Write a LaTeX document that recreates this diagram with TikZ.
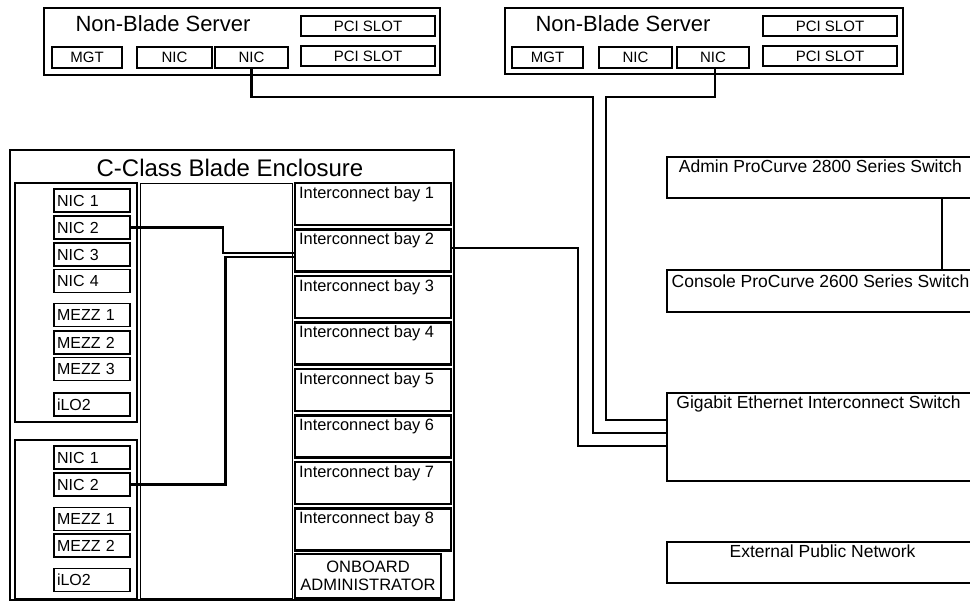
\documentclass[tikz,border=0pt]{standalone}
\usepackage{fontspec}
\setmainfont{Liberation Sans}
\newcommand\fsz[1]{\fontsize{#1}{#1}\selectfont}
\begin{document}
\begin{tikzpicture}[x=1pt,y=-1pt,
  thickbox/.style={draw, line width=2.2pt, inner sep=0pt, rectangle},
  thinbox/.style={draw, line width=1.1pt, inner sep=0pt, rectangle, text depth=0pt},
  itembox/.style={draw, line width=1.1pt, inner xsep=3pt, inner ysep=0pt, minimum height=23pt, text width=70pt, align=left, font=\fsz{16}},
  lbl/.style={inner sep=0pt, text depth=0pt},
  conn/.style={line width=2.2pt},
]
\useasboundingbox (0,0) rectangle (970,601);
\clip (0,0) rectangle (970,601);

% ---------- Non-blade servers ----------
\node[thickbox, minimum width=396pt, minimum height=67pt] (ls) at (242,41.5) {};
\node[lbl, font=\fsz{22}] (lst) at (163,23.3) {Non-Blade Server};
\node[thinbox, minimum width=134pt, minimum height=20pt, font=\fsz{15}] (lpci1) at (368,26) {PCI SLOT};
\node[thinbox, minimum width=134pt, minimum height=20pt, font=\fsz{15}] (lpci2) at (368,56) {PCI SLOT};
\node[thinbox, minimum width=70pt, minimum height=21pt, font=\fsz{15}] (lmgt) at (87,57.5) {MGT};
\node[thinbox, minimum width=75pt, minimum height=21pt, font=\fsz{15}] (lnic1) at (174.5,57.5) {NIC};
\node[thinbox, minimum width=73pt, minimum height=21pt, font=\fsz{15}] (lnic2) at (251.5,57.5) {NIC};

\node[thickbox, minimum width=398pt, minimum height=66pt] (rs) at (704,41) {};
\node[lbl, font=\fsz{22}] (rst) at (623,23.3) {Non-Blade Server};
\node[thinbox, minimum width=134pt, minimum height=20pt, font=\fsz{15}] (rpci1) at (830,26) {PCI SLOT};
\node[thinbox, minimum width=134pt, minimum height=20pt, font=\fsz{15}] (rpci2) at (830,56) {PCI SLOT};
\node[thinbox, minimum width=71pt, minimum height=21pt, font=\fsz{15}] (rmgt) at (547.5,57.5) {MGT};
\node[thinbox, minimum width=73pt, minimum height=21pt, font=\fsz{15}] (rnic1) at (635.5,57.5) {NIC};
\node[thinbox, minimum width=72pt, minimum height=21pt, font=\fsz{15}] (rnic2) at (713,57.5) {NIC};

% ---------- Enclosure ----------
\node[draw, line width=2.5pt, inner sep=0pt, minimum width=444pt, minimum height=450pt] (enc) at (232,375) {};
\node[lbl, font=\fsz{24}] (enct) at (230,168) {C-Class Blade Enclosure};
\node[thickbox, minimum width=122pt, minimum height=239pt] (blade1) at (76,302.5) {};
\node[thickbox, minimum width=122pt, minimum height=159pt] (blade2) at (76,519.5) {};
\node[draw, line width=0.9pt, inner sep=0pt, minimum width=152pt, minimum height=415pt] (mid) at (216,390.5) {};

\node[itembox] (b1nic1) at (92,200.5) {NIC 1};
\node[itembox] (b1nic2) at (92,227.5) {NIC 2};
\node[itembox] (b1nic3) at (92,254.5) {NIC 3};
\node[itembox] (b1nic4) at (92,281) {NIC 4};
\node[itembox] (b1mezz1) at (92,315) {MEZZ 1};
\node[itembox] (b1mezz2) at (92,342.5) {MEZZ 2};
\node[itembox] (b1mezz3) at (92,369) {MEZZ 3};
\node[itembox] (b1ilo) at (92,404.5) {iLO2};

\node[itembox] (b2nic1) at (92,457.5) {NIC 1};
\node[itembox] (b2nic2) at (92,484.5) {NIC 2};
\node[itembox] (b2mezz1) at (92,519) {MEZZ 1};
\node[itembox] (b2mezz2) at (92,545.5) {MEZZ 2};
\node[itembox] (b2ilo) at (92,580) {iLO2};

\foreach \i in {1,...,8} {
  \node[thickbox, minimum width=156pt, minimum height=42pt] (bay\i) at (373,{204+46.5*(\i-1)}) {};
  \node[lbl, anchor=west, font=\fsz{16.4}] (bayt\i) at ([xshift=5pt,yshift=-10.3pt]bay\i.north west) {Interconnect bay \i};
}
\node[thickbox, minimum width=146pt, minimum height=44pt, align=center, font=\fontsize{16.5}{17.6}\selectfont] (oa) at (368,576) {ONBOARD\\ADMINISTRATOR};

% ---------- Right column ----------
\node[thickbox, minimum width=307pt, minimum height=41pt] (admin) at (820.5,177.5) {};
\node[lbl, font=\fsz{17.5}] (admint) at ([yshift=-10.5pt]admin.north) {Admin ProCurve 2800 Series Switch};
\node[thickbox, minimum width=307pt, minimum height=42pt] (console) at (820.5,291) {};
\node[lbl, font=\fsz{17.5}] (consolet) at ([yshift=-12pt]console.north) {Console ProCurve 2600 Series Switch};
\node[thickbox, minimum width=307pt, minimum height=88pt] (gig) at (820.5,437) {};
\node[lbl, font=\fsz{17.5}] (gigt) at ([xshift=-2pt,yshift=-10.3pt]gig.north) {Gigabit Ethernet Interconnect Switch};
\node[thickbox, minimum width=307pt, minimum height=41pt] (ext) at (820.5,562.5) {};
\node[lbl, font=\fsz{17.5}] (extt) at ([xshift=2pt,yshift=-10.5pt]ext.north) {External Public Network};

% ---------- Connectors ----------
\coordinate (ax) at (942,0);
\draw[conn] (admin.south -| ax) -- (console.north -| ax);

\draw[conn] (lnic2.south) |- (593,97) |- ([yshift=4pt]gig.west);
\draw[conn] ([xshift=2pt]rnic2.south) |- (606,97) |- ([yshift=17pt]gig.west);
\draw[conn] ([yshift=2.5pt]bay2.east) -| (578,446) -- ([yshift=-9pt]gig.west);

\draw[conn] (b1nic2.east) -| (223,252.7) -- ([yshift=-2.2pt]bay2.west);
\draw[conn] (b2nic2.east) -| (225.5,257.3) -- ([yshift=-6.8pt]bay2.west);
\end{tikzpicture}
\end{document}
